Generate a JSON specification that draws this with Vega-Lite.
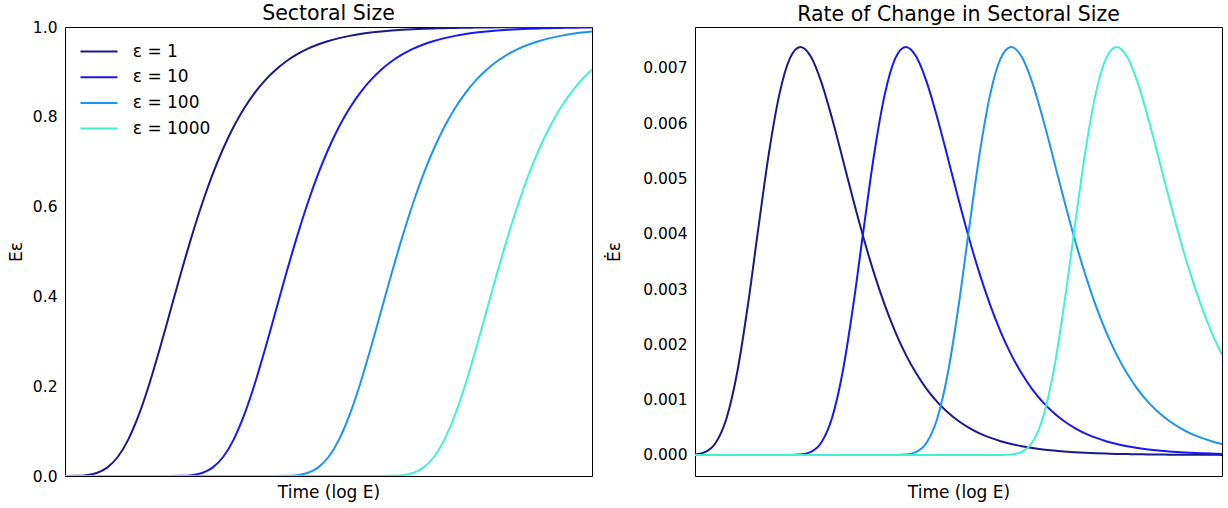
{
  "$schema": "https://vega.github.io/schema/vega-lite/v6.json",
  "padding": {"left": 7, "top": 3, "right": 6, "bottom": 4},
  "spacing": 12,
  "config": {
    "font": "DejaVu Sans",
    "view": {"stroke": "#000000", "strokeWidth": 1},
    "axis": {"grid": false, "ticks": false, "domain": false, "labelColor": "#000000", "titleColor": "#000000", "labelFontSize": 15.5, "titleFontSize": 17, "titleFontWeight": "normal"},
    "title": {"fontSize": 20.5, "fontWeight": "normal", "color": "#000000"}
  },
  "datasets": {
    "d": [
      {"x": 0, "e": 1, "E": 0.0000454, "D": 0.0000091},
      {"x": 0.1, "e": 1, "E": 0.000355, "D": 0.0000566},
      {"x": 0.2, "e": 1, "E": 0.001818, "D": 0.00023},
      {"x": 0.3, "e": 1, "E": 0.006657, "D": 0.000669},
      {"x": 0.4, "e": 1, "E": 0.018667, "D": 0.001491},
      {"x": 0.5, "e": 1, "E": 0.042329, "D": 0.002685},
      {"x": 0.6, "e": 1, "E": 0.081114, "D": 0.004087},
      {"x": 0.7, "e": 1, "E": 0.135972, "D": 0.005443},
      {"x": 0.8, "e": 1, "E": 0.20497, "D": 0.006517},
      {"x": 0.9, "e": 1, "E": 0.28397, "D": 0.007172},
      {"x": 1.0, "e": 1, "E": 0.367879, "D": 0.00738},
      {"x": 1.1, "e": 1, "E": 0.451885, "D": 0.007201},
      {"x": 1.2, "e": 1, "E": 0.532083, "D": 0.006735},
      {"x": 1.3, "e": 1, "E": 0.605809, "D": 0.006091},
      {"x": 1.4, "e": 1, "E": 0.671587, "D": 0.005364},
      {"x": 1.5, "e": 1, "E": 0.728891, "D": 0.004624},
      {"x": 1.6, "e": 1, "E": 0.777874, "D": 0.00392},
      {"x": 1.7, "e": 1, "E": 0.819116, "D": 0.003279},
      {"x": 1.8, "e": 1, "E": 0.853435, "D": 0.002714},
      {"x": 1.9, "e": 1, "E": 0.881712, "D": 0.002227},
      {"x": 2.0, "e": 1, "E": 0.904837, "D": 0.001815},
      {"x": 2.1, "e": 1, "E": 0.92364, "D": 0.001472},
      {"x": 2.2, "e": 1, "E": 0.938854, "D": 0.001188},
      {"x": 2.3, "e": 1, "E": 0.951116, "D": 0.000956},
      {"x": 2.4, "e": 1, "E": 0.960971, "D": 0.000768},
      {"x": 2.5, "e": 1, "E": 0.968872, "D": 0.000615},
      {"x": 2.6, "e": 1, "E": 0.975194, "D": 0.000491},
      {"x": 2.7, "e": 1, "E": 0.980245, "D": 0.000392},
      {"x": 2.8, "e": 1, "E": 0.984276, "D": 0.000313},
      {"x": 2.9, "e": 1, "E": 0.98749, "D": 0.000249},
      {"x": 3.0, "e": 1, "E": 0.99005, "D": 0.000199},
      {"x": 3.1, "e": 1, "E": 0.992088, "D": 0.000158},
      {"x": 3.2, "e": 1, "E": 0.99371, "D": 0.000126},
      {"x": 3.3, "e": 1, "E": 0.995001, "D": 0.0001},
      {"x": 3.4, "e": 1, "E": 0.996027, "D": 0.0000796},
      {"x": 3.5, "e": 1, "E": 0.996843, "D": 0.0000632},
      {"x": 3.6, "e": 1, "E": 0.997491, "D": 0.0000503},
      {"x": 3.7, "e": 1, "E": 0.998007, "D": 0.00004},
      {"x": 3.8, "e": 1, "E": 0.998416, "D": 0.0000317},
      {"x": 3.9, "e": 1, "E": 0.998742, "D": 0.0000252},
      {"x": 4.0, "e": 1, "E": 0.999, "D": 0.00002},
      {"x": 4.1, "e": 1, "E": 0.999206, "D": 0.0000159},
      {"x": 4.2, "e": 1, "E": 0.999369, "D": 0.0000127},
      {"x": 4.3, "e": 1, "E": 0.999499, "D": 0.0000101},
      {"x": 4.4, "e": 1, "E": 0.999602, "D": 0.000008},
      {"x": 4.5, "e": 1, "E": 0.999684, "D": 0.0000063},
      {"x": 4.6, "e": 1, "E": 0.999749, "D": 0.000005},
      {"x": 4.7, "e": 1, "E": 0.9998, "D": 0.000004},
      {"x": 4.8, "e": 1, "E": 0.999842, "D": 0.0000032},
      {"x": 4.9, "e": 1, "E": 0.999874, "D": 0.0000025},
      {"x": 5.0, "e": 1, "E": 0.9999, "D": 0.000002},

      {"x": 0, "e": 10, "E": 0, "D": 0},
      {"x": 0.8, "e": 10, "E": 0, "D": 0},
      {"x": 0.9, "e": 10, "E": 0.0000034, "D": 0.0000009},
      {"x": 1.0, "e": 10, "E": 0.0000454, "D": 0.0000091},
      {"x": 1.1, "e": 10, "E": 0.000355, "D": 0.0000566},
      {"x": 1.2, "e": 10, "E": 0.001818, "D": 0.00023},
      {"x": 1.3, "e": 10, "E": 0.006657, "D": 0.000669},
      {"x": 1.4, "e": 10, "E": 0.018667, "D": 0.001491},
      {"x": 1.5, "e": 10, "E": 0.042329, "D": 0.002685},
      {"x": 1.6, "e": 10, "E": 0.081114, "D": 0.004087},
      {"x": 1.7, "e": 10, "E": 0.135972, "D": 0.005443},
      {"x": 1.8, "e": 10, "E": 0.20497, "D": 0.006517},
      {"x": 1.9, "e": 10, "E": 0.28397, "D": 0.007172},
      {"x": 2.0, "e": 10, "E": 0.367879, "D": 0.00738},
      {"x": 2.1, "e": 10, "E": 0.451885, "D": 0.007201},
      {"x": 2.2, "e": 10, "E": 0.532083, "D": 0.006735},
      {"x": 2.3, "e": 10, "E": 0.605809, "D": 0.006091},
      {"x": 2.4, "e": 10, "E": 0.671587, "D": 0.005364},
      {"x": 2.5, "e": 10, "E": 0.728891, "D": 0.004624},
      {"x": 2.6, "e": 10, "E": 0.777874, "D": 0.00392},
      {"x": 2.7, "e": 10, "E": 0.819116, "D": 0.003279},
      {"x": 2.8, "e": 10, "E": 0.853435, "D": 0.002714},
      {"x": 2.9, "e": 10, "E": 0.881712, "D": 0.002227},
      {"x": 3.0, "e": 10, "E": 0.904837, "D": 0.001815},
      {"x": 3.1, "e": 10, "E": 0.92364, "D": 0.001472},
      {"x": 3.2, "e": 10, "E": 0.938854, "D": 0.001188},
      {"x": 3.3, "e": 10, "E": 0.951116, "D": 0.000956},
      {"x": 3.4, "e": 10, "E": 0.960971, "D": 0.000768},
      {"x": 3.5, "e": 10, "E": 0.968872, "D": 0.000615},
      {"x": 3.6, "e": 10, "E": 0.975194, "D": 0.000491},
      {"x": 3.7, "e": 10, "E": 0.980245, "D": 0.000392},
      {"x": 3.8, "e": 10, "E": 0.984276, "D": 0.000313},
      {"x": 3.9, "e": 10, "E": 0.98749, "D": 0.000249},
      {"x": 4.0, "e": 10, "E": 0.99005, "D": 0.000199},
      {"x": 4.1, "e": 10, "E": 0.992088, "D": 0.000158},
      {"x": 4.2, "e": 10, "E": 0.99371, "D": 0.000126},
      {"x": 4.3, "e": 10, "E": 0.995001, "D": 0.0001},
      {"x": 4.4, "e": 10, "E": 0.996027, "D": 0.0000796},
      {"x": 4.5, "e": 10, "E": 0.996843, "D": 0.0000632},
      {"x": 4.6, "e": 10, "E": 0.997491, "D": 0.0000503},
      {"x": 4.7, "e": 10, "E": 0.998007, "D": 0.00004},
      {"x": 4.8, "e": 10, "E": 0.998416, "D": 0.0000317},
      {"x": 4.9, "e": 10, "E": 0.998742, "D": 0.0000252},
      {"x": 5.0, "e": 10, "E": 0.999, "D": 0.00002},

      {"x": 0, "e": 100, "E": 0, "D": 0},
      {"x": 1.8, "e": 100, "E": 0, "D": 0},
      {"x": 1.9, "e": 100, "E": 0.0000034, "D": 0.0000009},
      {"x": 2.0, "e": 100, "E": 0.0000454, "D": 0.0000091},
      {"x": 2.1, "e": 100, "E": 0.000355, "D": 0.0000566},
      {"x": 2.2, "e": 100, "E": 0.001818, "D": 0.00023},
      {"x": 2.3, "e": 100, "E": 0.006657, "D": 0.000669},
      {"x": 2.4, "e": 100, "E": 0.018667, "D": 0.001491},
      {"x": 2.5, "e": 100, "E": 0.042329, "D": 0.002685},
      {"x": 2.6, "e": 100, "E": 0.081114, "D": 0.004087},
      {"x": 2.7, "e": 100, "E": 0.135972, "D": 0.005443},
      {"x": 2.8, "e": 100, "E": 0.20497, "D": 0.006517},
      {"x": 2.9, "e": 100, "E": 0.28397, "D": 0.007172},
      {"x": 3.0, "e": 100, "E": 0.367879, "D": 0.00738},
      {"x": 3.1, "e": 100, "E": 0.451885, "D": 0.007201},
      {"x": 3.2, "e": 100, "E": 0.532083, "D": 0.006735},
      {"x": 3.3, "e": 100, "E": 0.605809, "D": 0.006091},
      {"x": 3.4, "e": 100, "E": 0.671587, "D": 0.005364},
      {"x": 3.5, "e": 100, "E": 0.728891, "D": 0.004624},
      {"x": 3.6, "e": 100, "E": 0.777874, "D": 0.00392},
      {"x": 3.7, "e": 100, "E": 0.819116, "D": 0.003279},
      {"x": 3.8, "e": 100, "E": 0.853435, "D": 0.002714},
      {"x": 3.9, "e": 100, "E": 0.881712, "D": 0.002227},
      {"x": 4.0, "e": 100, "E": 0.904837, "D": 0.001815},
      {"x": 4.1, "e": 100, "E": 0.92364, "D": 0.001472},
      {"x": 4.2, "e": 100, "E": 0.938854, "D": 0.001188},
      {"x": 4.3, "e": 100, "E": 0.951116, "D": 0.000956},
      {"x": 4.4, "e": 100, "E": 0.960971, "D": 0.000768},
      {"x": 4.5, "e": 100, "E": 0.968872, "D": 0.000615},
      {"x": 4.6, "e": 100, "E": 0.975194, "D": 0.000491},
      {"x": 4.7, "e": 100, "E": 0.980245, "D": 0.000392},
      {"x": 4.8, "e": 100, "E": 0.984276, "D": 0.000313},
      {"x": 4.9, "e": 100, "E": 0.98749, "D": 0.000249},
      {"x": 5.0, "e": 100, "E": 0.99005, "D": 0.000199},

      {"x": 0, "e": 1000, "E": 0, "D": 0},
      {"x": 2.8, "e": 1000, "E": 0, "D": 0},
      {"x": 2.9, "e": 1000, "E": 0.0000034, "D": 0.0000009},
      {"x": 3.0, "e": 1000, "E": 0.0000454, "D": 0.0000091},
      {"x": 3.1, "e": 1000, "E": 0.000355, "D": 0.0000566},
      {"x": 3.2, "e": 1000, "E": 0.001818, "D": 0.00023},
      {"x": 3.3, "e": 1000, "E": 0.006657, "D": 0.000669},
      {"x": 3.4, "e": 1000, "E": 0.018667, "D": 0.001491},
      {"x": 3.5, "e": 1000, "E": 0.042329, "D": 0.002685},
      {"x": 3.6, "e": 1000, "E": 0.081114, "D": 0.004087},
      {"x": 3.7, "e": 1000, "E": 0.135972, "D": 0.005443},
      {"x": 3.8, "e": 1000, "E": 0.20497, "D": 0.006517},
      {"x": 3.9, "e": 1000, "E": 0.28397, "D": 0.007172},
      {"x": 4.0, "e": 1000, "E": 0.367879, "D": 0.00738},
      {"x": 4.1, "e": 1000, "E": 0.451885, "D": 0.007201},
      {"x": 4.2, "e": 1000, "E": 0.532083, "D": 0.006735},
      {"x": 4.3, "e": 1000, "E": 0.605809, "D": 0.006091},
      {"x": 4.4, "e": 1000, "E": 0.671587, "D": 0.005364},
      {"x": 4.5, "e": 1000, "E": 0.728891, "D": 0.004624},
      {"x": 4.6, "e": 1000, "E": 0.777874, "D": 0.00392},
      {"x": 4.7, "e": 1000, "E": 0.819116, "D": 0.003279},
      {"x": 4.8, "e": 1000, "E": 0.853435, "D": 0.002714},
      {"x": 4.9, "e": 1000, "E": 0.881712, "D": 0.002227},
      {"x": 5.0, "e": 1000, "E": 0.904837, "D": 0.001815}
    ]
  },
  "data": {"name": "d"},
  "resolve": {"scale": {"y": "independent"}, "legend": {"color": "independent"}},
  "hconcat": [
    {
      "width": 527,
      "height": 449,
      "title": {"text": "Sectoral Size", "offset": -4},
      "mark": {"type": "line", "strokeWidth": 2, "interpolate": "monotone", "clip": true},
      "encoding": {
        "x": {"field": "x", "type": "quantitative", "scale": {"domain": [0, 5], "nice": false, "zero": false},
              "axis": {"labels": false, "title": "Time (log E)", "titlePadding": 8}},
        "y": {"field": "E", "type": "quantitative", "scale": {"domain": [0, 1], "nice": false},
              "axis": {"values": [0, 0.2, 0.4, 0.6, 0.8, 1], "format": ".1f", "labelPadding": 8, "title": "Eε", "titlePadding": 6.5}},
        "color": {"field": "e", "type": "nominal",
                  "scale": {"domain": [1, 10, 100, 1000], "range": ["#19198a", "#1818f0", "#1c94f2", "#3ff2d2"]},
                  "legend": {"title": null, "orient": "none", "legendX": 25.5, "legendY": 16, "padding": 0,
                             "labelExpr": "'ε = ' + datum.label", "labelFontSize": 17, "labelColor": "#000000",
                             "symbolType": "M-3,0H3", "symbolSize": 152, "symbolStrokeWidth": 2, "labelOffset": 25.3, "rowPadding": 7.7}}
      }
    },
    {
      "width": 527,
      "height": 449,
      "title": {"text": "Rate of Change in Sectoral Size", "offset": 2},
      "mark": {"type": "line", "strokeWidth": 2, "interpolate": "monotone", "clip": true},
      "encoding": {
        "x": {"field": "x", "type": "quantitative", "scale": {"domain": [0, 5], "nice": false, "zero": false},
              "axis": {"labels": false, "title": "Time (log E)", "titlePadding": 8}},
        "y": {"field": "D", "type": "quantitative", "scale": {"domain": [-0.00038, 0.00774], "nice": false, "zero": false},
              "axis": {"values": [0, 0.001, 0.002, 0.003, 0.004, 0.005, 0.006, 0.007], "format": ".3f", "labelPadding": 8, "title": "Ėε", "titlePadding": 19}},
        "color": {"field": "e", "type": "nominal",
                  "scale": {"domain": [1, 10, 100, 1000], "range": ["#19198a", "#1818f0", "#1c94f2", "#3ff2d2"]},
                  "legend": null}
      }
    }
  ]
}
